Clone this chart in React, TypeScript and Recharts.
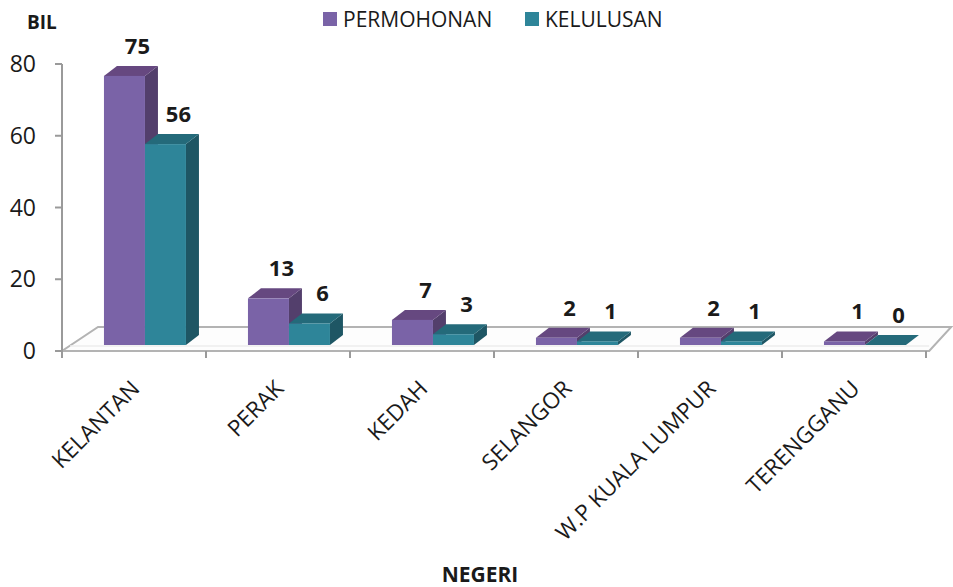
import React from 'react';
import { BarChart, Bar, XAxis, YAxis, Legend, LabelList } from 'recharts';

const categories = ['KELANTAN', 'PERAK', 'KEDAH', 'SELANGOR', 'W.P KUALA LUMPUR', 'TERENGGANU'];
const permohonan = [75, 13, 7, 2, 2, 1];
const kelulusan = [56, 6, 3, 1, 1, 0];
const yTicks = [0, 20, 40, 60, 80];
const seriesNames = ['PERMOHONAN', 'KELULUSAN'];
const axisTitleX = 'NEGERI';
const axisTitleY = 'BIL';

const data = categories.map((c, i) => ({ negeri: c, permohonan: permohonan[i], kelulusan: kelulusan[i] }));

const FONT = '"Open Sans", "DejaVu Sans", sans-serif';
const GAP_RATIO = 0.215;
const SHIFT_X = 11;
const LIFT = 6;
const DX = 13;
const DY = -10;

const colors = {
  p: { front: '#7a63a7', top: '#664880', side: '#533f6c' },
  k: { front: '#2e8599', top: '#246a7a', side: '#1e5664' },
};

const make3D = (c: { front: string; top: string; side: string }) => (props: any) => {
  const { x, y, width, height } = props;
  if (x == null || y == null) return null;
  const L = x + SHIFT_X;
  const R = L + width;
  const T = y - LIFT;
  const B = y + (height || 0) - LIFT;
  return (
    <g>
      <polygon points={`${R},${T} ${R + DX},${T + DY} ${R + DX},${B + DY} ${R},${B}`} fill={c.side} />
      <polygon points={`${L},${T} ${L + DX},${T + DY} ${R + DX},${T + DY} ${R},${T}`} fill={c.top} />
      {B - T > 0 && <rect x={L} y={T} width={width} height={B - T} fill={c.front} />}
    </g>
  );
};

// 3D floor drawn as the background of the first series (so it stays behind the bars)
const renderFloor = (props: any) => {
  const { x, y, width, height, index } = props;
  if (index !== 0 || x == null) return <g />;
  const n = categories.length;
  const band = width / (1 - 2 * GAP_RATIO) * 2;
  const left = x - band * GAP_RATIO;
  const base = y + height;
  const right = left + n * band;
  return (
    <g>
      <polygon
        points={`${left},${base} ${right + 4},${base} ${right + 26},${base - 24} ${left + 36},${base - 24}`}
        fill="#fdfdfd"
        stroke="#b3b3b3"
        strokeWidth={2}
      />
      <line x1={left + 8} y1={base - 5} x2={right + 4} y2={base - 5} stroke="#ececec" strokeWidth={1.5} />
    </g>
  );
};

const renderValueLabel = (props: any) => {
  const vb = props.viewBox || {};
  const x = props.x ?? vb.x;
  const y = props.y ?? vb.y;
  const width = props.width ?? vb.width;
  const { value } = props;
  if (x == null || y == null) return null;
  return (
    <text
      x={x + SHIFT_X + width / 2 + 13}
      y={y - LIFT - 22}
      textAnchor="middle"
      fontFamily={FONT}
      fontWeight="bold"
      fontSize={22}
      fill="#1a1a1a"
    >
      {value}
    </text>
  );
};

const XTick = (props: any) => {
  const { x, y, payload, index } = props;
  const n = categories.length;
  const bw = payload && payload.offset ? payload.offset * 2 : (props.width || 864) / n;
  const left = x - bw / 2;
  return (
    <g>
      <line x1={left} y1={y} x2={left} y2={y + 7} stroke="#9a9a9a" strokeWidth={2} />
      {index === n - 1 && <line x1={left + bw} y1={y} x2={left + bw} y2={y + 7} stroke="#9a9a9a" strokeWidth={2} />}
      <text
        x={x + 7}
        y={y + 39}
        textAnchor="end"
        transform={`rotate(-45, ${x + 7}, ${y + 39})`}
        fontFamily={FONT}
        fontSize={22.5}
        fill="#1a1a1a"
      >
        {payload.value}
      </text>
    </g>
  );
};

const renderLegend = () => (
  <div style={{ position: 'relative', height: 40, fontFamily: FONT, fontSize: 21, color: '#1a1a1a' }}>
    {[colors.p.front, colors.k.front].map((col, i) => (
      <div key={i} style={{ position: 'absolute', left: i === 0 ? 323 : 525, top: 5, display: 'flex', alignItems: 'center', lineHeight: '28px' }}>
        <span style={{ display: 'inline-block', width: 14, height: 14, background: col, marginRight: 6 }} />
        <span>{seriesNames[i]}</span>
      </div>
    ))}
  </div>
);

export default function App() {
  return (
    <div style={{ position: 'absolute', left: 0, top: 0, width: 953, height: 587, background: '#fff' }}>
      <BarChart
        width={953}
        height={587}
        data={data}
        margin={{ top: 24, right: 27, left: 0, bottom: 0 }}
        barCategoryGap={`${GAP_RATIO * 100}%`}
        barGap={0}
        style={{ fontFamily: FONT }}
      >
        <Legend
          verticalAlign="top"
          align="left"
          height={40}
          content={renderLegend}
          wrapperStyle={{ left: 0, top: 0, width: 953, height: 40 }}
        />
        <XAxis
          dataKey="negeri"
          height={236}
          axisLine={false}
          tickLine={false}
          tickSize={0}
          tickMargin={0}
          interval={0}
          tick={<XTick />}
          label={{
            content: () => (
              <text x={480} y={582} textAnchor="middle" fontFamily={FONT} fontWeight="bold" fontSize={21} fill="#1a1a1a">
                {axisTitleX}
              </text>
            ),
          }}
        />
        <YAxis
          width={62}
          domain={[0, 80]}
          ticks={yTicks}
          interval={0}
          tickSize={7}
          tickMargin={19}
          axisLine={{ stroke: '#9a9a9a', strokeWidth: 2 }}
          tickLine={{ stroke: '#9a9a9a', strokeWidth: 2 }}
          tick={{ fontSize: 23, fill: '#1a1a1a', fontFamily: FONT }}
          label={{
            content: () => (
              <text x={27} y={29} fontFamily={FONT} fontWeight="bold" fontSize={19} fill="#1a1a1a">
                {axisTitleY}
              </text>
            ),
          }}
        />
        <Bar
          dataKey="permohonan"
          name={seriesNames[0]}
          fill={colors.p.front}
          shape={make3D(colors.p)}
          background={renderFloor}
          isAnimationActive={false}
        >
          <LabelList dataKey="permohonan" content={renderValueLabel} />
        </Bar>
        <Bar dataKey="kelulusan" name={seriesNames[1]} fill={colors.k.front} shape={make3D(colors.k)} isAnimationActive={false}>
          <LabelList dataKey="kelulusan" content={renderValueLabel} />
        </Bar>
      </BarChart>
    </div>
  );
}
